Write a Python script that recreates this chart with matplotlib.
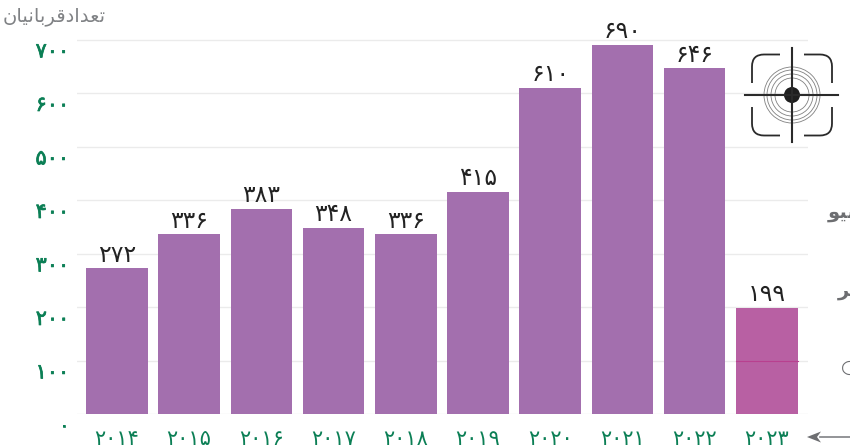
import matplotlib
matplotlib.use("Agg")
import matplotlib.pyplot as plt
import matplotlib.patheffects as pe
from matplotlib.patches import Circle, PathPatch
from matplotlib.path import Path
from matplotlib.transforms import ScaledTranslation

W, H = 850, 448
years = [2014, 2015, 2016, 2017, 2018, 2019, 2020, 2021, 2022, 2023]
victims = [272, 336, 383, 348, 336, 415, 610, 690, 646, 199]
y_ticks = [0, 100, 200, 300, 400, 500, 600, 700]
bar_colors = ["#a36fae"] * 9 + ["#b860a3"]
# Presentation forms in visual order: matplotlib does not shape Arabic script
y_title = "\uFEE5\uFE8E\uFBFF\uFEE7\uFE8E\uFE91\uFEAE\uFED7\uFEA9\uFE8D\uFEAA\uFECC\uFE97"
side_labels = ["\uFEEE\uFBFF\uFEB3", "\uFEAE\uFE97", "\u25CB"]
side_x = [828, 838, 841]
side_y = [212, 290, 367]
side_weight = ["bold", "bold", "normal"]

FA = str.maketrans("0123456789", "۰۱۲۳۴۵۶۷۸۹")
def fa(v):
    return str(v).translate(FA)

plt.rcParams["font.family"] = ["DejaVu Sans"]
fig = plt.figure(figsize=(W / 100, H / 100), dpi=100, facecolor="white")

left, right, top, bottom = 77, 808, 39.5, 414
ax = fig.add_axes([left / W, 1 - bottom / H, (right - left) / W, (bottom - top) / H])
ax.set_ylim(0, 700)
ax.set_xlim(-0.554, 9.571)
ax.set_facecolor("none")
for s in ax.spines.values():
    s.set_visible(False)

x = list(range(len(years)))
bar_w = 0.855
ax.bar(x, victims, width=bar_w, color=bar_colors, zorder=2)
ax.yaxis.grid(True, color="#ebebeb", lw=1, zorder=1)
ax.set_axisbelow(True)
# the 2023 bar lets the grid line show through
ax.plot([9 - bar_w / 2, 9 + bar_w / 2], [100, 100], color="#b8408f", lw=0.8, zorder=3)

ax.set_yticks(y_ticks)
ax.set_yticklabels([fa(v) for v in y_ticks], color="#0b7f55", fontsize=15)
ax.tick_params(axis="y", length=0, pad=5.5)
shift = ScaledTranslation(0, -10 / 100, fig.dpi_scale_trans)
for lbl in ax.get_yticklabels():
    lbl.set_transform(lbl.get_transform() + shift)
    lbl.set_path_effects([pe.withStroke(linewidth=0.5, foreground="#0b7f55")])
ax.set_xticks(x)
ax.set_xticklabels([fa(v) for v in years], color="#0b7f55", fontsize=15)
ax.tick_params(axis="x", length=0, pad=11)

for xi, v in zip(x, victims):
    ax.text(xi, v + 3, fa(v), ha="center", va="bottom", fontsize=17, color="#222222")

fig.text(3 / W, 1 - 16 / H, y_title, ha="left", va="center", fontsize=14, color="#808285")

# overlay in pixel coordinates for the decoration
ov = fig.add_axes([0, 0, 1, 1])
ov.set_xlim(0, W)
ov.set_ylim(H, 0)
ov.axis("off")
ov.patch.set_alpha(0)

for label, sx_, sy, wt in zip(side_labels, side_x, side_y, side_weight):
    ov.text(sx_, sy, label, fontsize=14, color="#6d6e71", fontweight=wt, ha="left", va="center")

cx, cy = 792, 95
for r in (17, 21, 25, 28):
    ov.add_patch(Circle((cx, cy), r, fill=False, ec="#808080", lw=0.6))
ov.add_patch(Circle((cx, cy), 8, fc="#1f1f1f", ec="none"))
ov.plot([745, 838], [cy, cy], color="#2a2a2a", lw=1.5)
ov.plot([cx, cx], [48, 142], color="#2a2a2a", lw=1.5)
a, b, r = 40, 40.5, 12
for sx, sy in ((-1, -1), (1, -1), (-1, 1), (1, 1)):
    pts = [(cx + sx * a, cy + sy * 12), (cx + sx * a, cy + sy * (b - r)),
           (cx + sx * a, cy + sy * b), (cx + sx * (a - r), cy + sy * b),
           (cx + sx * 12, cy + sy * b)]
    codes = [Path.MOVETO, Path.LINETO, Path.CURVE3, Path.CURVE3, Path.LINETO]
    ov.add_patch(PathPatch(Path(pts, codes), fill=False, ec="#2a2a2a", lw=1.3))

ov.plot([820, 850], [437, 437], color="#808285", lw=1.2)
ov.fill([807, 821, 817, 821], [437, 431.5, 437, 442.5], color="#6d6e71", lw=0)

fig.savefig("out.png", dpi=100)
